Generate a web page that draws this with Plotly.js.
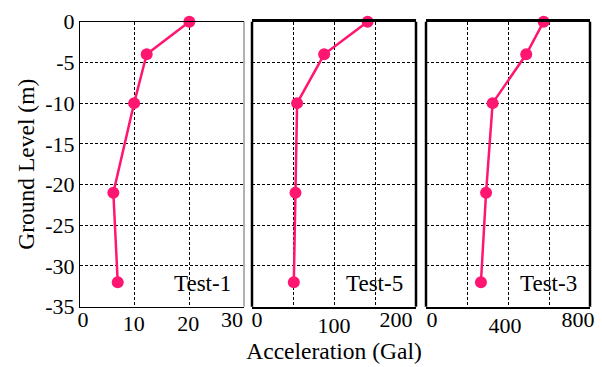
<!DOCTYPE html>
<html>
<head>
<meta charset="utf-8">
<script src="https://cdn.plot.ly/plotly-3.0.1.min.js"></script>
<style>html,body{margin:0;padding:0;background:#fff;}</style>
</head>
<body>
<div id="chart" style="width:602px;height:367px;"></div>
<script>
// Ground levels (m) shared by all tests
const groundLevel = [0, -4, -10, -21, -32];
// Peak acceleration (Gal) per test
const accTest1 = [20.0, 12.2, 9.9, 6.1, 6.9];
const accTest5 = [141, 88, 55, 53, 51];
const accTest3 = [574, 489, 325, 293, 268];
const panelNames = ['Test-1', 'Test-5', 'Test-3'];

// Axis ticks
const yTickVals = [0, -5, -10, -15, -20, -25, -30, -35];
const yTickText = ['0', '-5', '-10', '-15', '-20', '-25', '-30', '-35'];
const x1Range = [0, 30], x2Range = [0, 200], x3Range = [0, 800];
const x1GridVals = [10, 20], x2GridVals = [50, 100, 150], x3GridVals = [200, 400, 600];
const x1Labels = ['10', '20'], x2Labels = ['', '100', ''], x3Labels = ['', '400', ''];
const x1Ends = ['0', '30'], x2Ends = ['0', '200'], x3Ends = ['0', '800'];

const pink = '#ff1670';
const FAM = 'Liberation Serif';
const tickFont = {family: FAM, size: 22, color: '#000'};
const titleFont = {family: FAM, size: 23.5, color: '#000'};
const noteFont = {family: FAM, size: 23, color: '#000'};

function trace(x, xa) {
  return {
    x: x, y: groundLevel, xaxis: xa, yaxis: 'y', type: 'scatter', mode: 'lines+markers',
    line: {color: pink, width: 2.5}, marker: {color: pink, size: 12}, cliponaxis: false,
    hoverinfo: 'skip'
  };
}
// draws nothing; only makes the label-carrying overlay axis exist
function holder(range, xa) {
  return {x: range, y: [groundLevel[0], groundLevel[0]], xaxis: xa, yaxis: 'y', type: 'scatter',
    mode: 'none', hoverinfo: 'skip', showlegend: false};
}

const data = [
  trace(accTest1, 'x'), trace(accTest5, 'x2'), trace(accTest3, 'x3'),
  holder(x1Range, 'x4'), holder(x1Range, 'x5'), holder(x2Range, 'x6'),
  holder(x2Range, 'x7'), holder(x3Range, 'x8'), holder(x3Range, 'x9')
];

const yDom = [1 - 306.7 / 367, 1 - 21.7 / 367];
function xAxis(dom, range, tv, tt, thick, shift, extra) {
  return Object.assign({
    domain: dom, range: range, tickvals: tv, ticktext: tt, ticks: '',
    showgrid: true, gridcolor: '#000', gridwidth: 1, griddash: '3px,2px',
    zeroline: false, showline: true, mirror: true, linecolor: '#000', linewidth: thick,
    anchor: 'y', tickfont: tickFont, fixedrange: true, ticklabelshift: shift,
    ticklabelstandoff: -3
  }, extra || {});
}
// overlay axis carrying a single end label, nudged inward like the reference
function endAxis(over, range, val, txt, shift) {
  return {
    overlaying: over, anchor: 'y', range: range, tickvals: [val], ticktext: [txt], ticks: '',
    showgrid: false, zeroline: false, showline: false, tickfont: tickFont, fixedrange: true,
    ticklabelshift: shift, ticklabelstandoff: -3, ticklabeloverflow: 'allow'
  };
}

const layout = {
  width: 602, height: 367,
  margin: {l: 0, r: 0, t: 0, b: 0},
  paper_bgcolor: '#fff', plot_bgcolor: '#fff',
  showlegend: false,
  font: tickFont,
  xaxis: xAxis([80 / 602, 244 / 602], x1Range, x1GridVals, x1Labels, 1, -1),
  xaxis2: xAxis([252 / 602, 416 / 602], x2Range, x2GridVals, x2Labels, 2.5, 0,
    {title: {text: 'Acceleration (Gal)', font: titleFont, standoff: 2}}),
  xaxis3: xAxis([426 / 602, 590 / 602], x3Range, x3GridVals, x3Labels, 2.5, -3),
  xaxis4: endAxis('x', x1Range, x1Range[0], x1Ends[0], 3),
  xaxis5: endAxis('x', x1Range, x1Range[1], x1Ends[1], -12),
  xaxis6: endAxis('x2', x2Range, x2Range[0], x2Ends[0], 5),
  xaxis7: endAxis('x2', x2Range, x2Range[1], x2Ends[1], -20),
  xaxis8: endAxis('x3', x3Range, x3Range[0], x3Ends[0], 6),
  xaxis9: endAxis('x3', x3Range, x3Range[1], x3Ends[1], -12),
  yaxis: {
    domain: yDom, range: [-35, 0], tickvals: yTickVals, ticktext: yTickText, ticks: '',
    showgrid: true, gridcolor: '#000', gridwidth: 1, griddash: '3px,2px',
    zeroline: false, showline: true, mirror: false, linecolor: '#000', linewidth: 1,
    anchor: 'x', tickfont: tickFont, fixedrange: true,
    title: {text: 'Ground Level (m)', font: titleFont, standoff: 4}
  },
  shapes: [
    {type: 'line', xref: 'x domain', yref: 'y domain', x0: 1, x1: 1, y0: 0, y1: 1, line: {color: '#666', width: 1}},
    {type: 'line', xref: 'x2 domain', yref: 'y domain', x0: 0, x1: 0, y0: 0, y1: 1, line: {color: '#000', width: 2.5}},
    {type: 'line', xref: 'x2 domain', yref: 'y domain', x0: 1, x1: 1, y0: 0, y1: 1, line: {color: '#000', width: 2.5}},
    {type: 'line', xref: 'x3 domain', yref: 'y domain', x0: 0, x1: 0, y0: 0, y1: 1, line: {color: '#000', width: 2.5}},
    {type: 'line', xref: 'x3 domain', yref: 'y domain', x0: 1, x1: 1, y0: 0, y1: 1, line: {color: '#000', width: 2.5}}
  ],
  annotations: panelNames.map((n, i) => ({
    text: n, showarrow: false, xref: (i === 0 ? 'x' : 'x' + (i + 1)) + ' domain', yref: 'y domain',
    x: 1, y: 0, xanchor: 'right', yanchor: 'middle', xshift: -11, yshift: 23, font: noteFont
  }))
};

Plotly.newPlot('chart', data, layout, {displayModeBar: false, staticPlot: true});
</script>
</body>
</html>
